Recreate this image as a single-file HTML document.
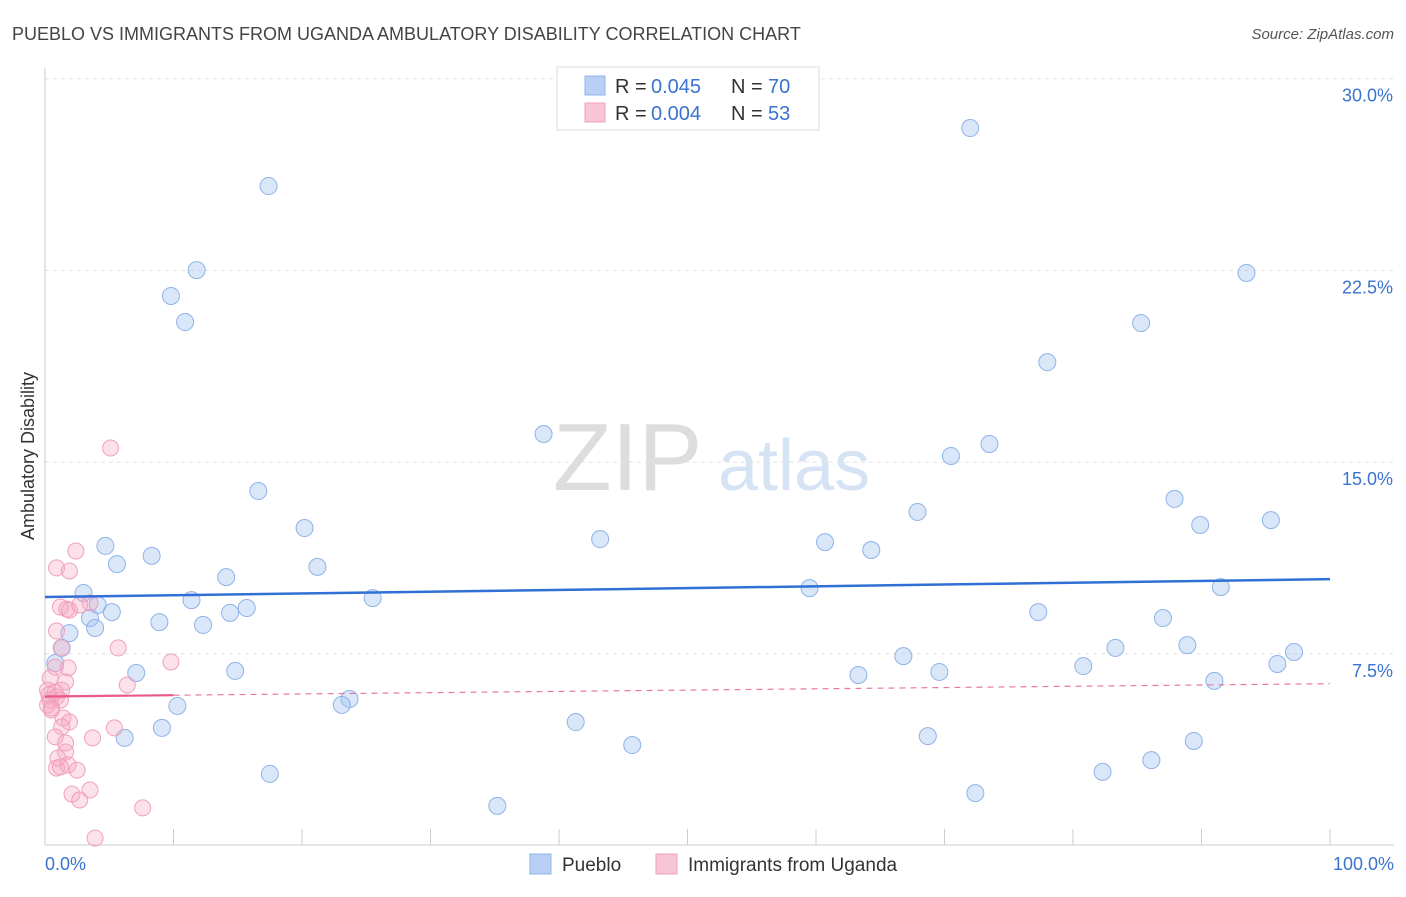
<!DOCTYPE html>
<html><head><meta charset="utf-8"><style>
body{margin:0;background:#fff;font-family:"Liberation Sans",sans-serif}
svg text{font-family:"Liberation Sans",sans-serif}
</style></head><body>
<svg id="chart" width="1406" height="892" xmlns="http://www.w3.org/2000/svg">
<text x="12" y="40" font-size="18" fill="#444">PUEBLO VS IMMIGRANTS FROM UGANDA AMBULATORY DISABILITY CORRELATION CHART</text>
<text x="1394" y="39" font-size="15" fill="#555" text-anchor="end" font-style="italic">Source: ZipAtlas.com</text>
<g>
<text x="553" y="490" font-size="96" fill="#ddd" font-family="Liberation Serif,serif">ZIP</text>
<text x="718" y="490" font-size="72" fill="#d5e3f5">atlas</text>
</g>
<text transform="translate(34,456) rotate(-90)" font-size="18" fill="#333" text-anchor="middle">Ambulatory Disability</text>
<g id="grid"></g><g id="axes"></g><g id="marks"></g>
<g>
<rect x="557" y="67" width="262" height="63" fill="#fff" stroke="#ddd"/>
<rect x="585" y="76" width="20" height="19" fill="#b7d0f3" stroke="#8fb3e8"/>
<text x="615" y="93" font-size="20" fill="#333">R =</text>
<text x="651" y="93" font-size="20" fill="#3a73d0">0.045</text>
<text x="731" y="93" font-size="20" fill="#333">N =</text>
<text x="768" y="93" font-size="20" fill="#3a73d0">70</text>
<rect x="585" y="103" width="20" height="19" fill="#f8c5d5" stroke="#f0a0bc"/>
<text x="615" y="120" font-size="20" fill="#333">R =</text>
<text x="651" y="120" font-size="20" fill="#3a73d0">0.004</text>
<text x="731" y="120" font-size="20" fill="#333">N =</text>
<text x="768" y="120" font-size="20" fill="#3a73d0">53</text>
</g>
<g>
<rect x="530" y="854" width="21" height="20" fill="#b7d0f3" stroke="#8fb3e8"/>
<text x="562" y="871" font-size="19" fill="#333">Pueblo</text>
<rect x="656" y="854" width="21" height="20" fill="#f8c5d5" stroke="#f0a0bc"/>
<text x="688" y="871" font-size="19" fill="#333">Immigrants from Uganda</text>
</g>
</svg>
<script>
const yTicks=[7.5,15,22.5,30];
const yTickLabels=["7.5%","15.0%","22.5%","30.0%"];
const xEndLabels=["0.0%","100.0%"];
const blueX=[72.0,17.4,11.8,9.8,10.9,93.5,85.3,78.0,38.8,70.5,73.5,16.6,87.9,67.9,95.4,89.9,20.2,43.2,60.7,64.3,4.7,8.3,5.6,21.2,14.1,59.5,91.5,3.0,25.5,11.4,4.1,5.2,15.7,14.4,3.5,8.9,12.3,77.3,87.0,1.9,3.9,1.3,83.3,88.9,66.8,97.2,80.8,95.9,0.8,7.1,14.8,63.3,69.6,91.0,23.7,23.1,10.3,41.3,9.1,6.2,68.7,45.7,89.4,86.1,82.3,17.5,72.4,35.2];
const blueY=[28.07,25.80,22.51,21.50,20.48,22.40,20.44,18.91,16.10,15.24,15.71,13.87,13.56,13.05,12.73,12.54,12.42,11.99,11.87,11.56,11.72,11.33,11.01,10.90,10.50,10.07,10.11,9.88,9.68,9.60,9.41,9.13,9.29,9.10,8.90,8.74,8.63,9.13,8.90,8.31,8.51,7.73,7.73,7.84,7.41,7.57,7.02,7.10,7.14,6.75,6.83,6.67,6.79,6.44,5.73,5.50,5.46,4.83,4.60,4.21,4.28,3.93,4.09,3.34,2.88,2.80,2.05,1.55];
const pinkX=[5.1,2.4,0.9,1.9,1.2,1.7,1.9,3.5,2.7,0.9,5.7,1.3,9.8,0.8,1.8,0.4,1.6,6.4,0.2,0.8,1.3,0.9,0.4,1.2,0.2,0.5,1.4,1.9,1.3,5.4,0.8,3.7,1.6,1.6,1.0,0.9,1.8,2.5,1.2,2.1,2.7,3.5,7.6,3.9,0.5,0.3];
const pinkY=[15.55,11.52,10.86,10.74,9.33,9.25,9.21,9.49,9.41,8.39,7.73,7.73,7.18,6.98,6.95,6.55,6.40,6.28,6.08,6.00,6.08,5.81,5.69,5.69,5.50,5.38,4.99,4.83,4.64,4.60,4.25,4.21,4.01,3.66,3.42,3.03,3.15,2.95,3.07,2.01,1.78,2.17,1.47,0.29,5.30,5.89];
const blueTrend=[9.72,10.42];
const pinkTrend=[5.83,6.33];
const pinkSolidEnd=10;
const NS="http://www.w3.org/2000/svg";
const X0=45,X1=1330,Y0=845.5,PXY=191.7/7.5;
const sx=v=>X0+(X1-X0)*v/100, sy=v=>Y0-v*PXY;
function mk(t,a,p){const e=document.createElementNS(NS,t);for(const k in a)e.setAttribute(k,a[k]);p.appendChild(e);return e;}
const grid=document.getElementById('grid'),axes=document.getElementById('axes'),marks=document.getElementById('marks');
yTicks.forEach((v,i)=>{
 const l=mk('line',{x1:X0,x2:1394,y1:sy(v),y2:sy(v),stroke:'#e2e2e2','stroke-dasharray':'4,4'},grid);
 
 
 const t=mk('text',{x:1393,y:sy(v)+23,'font-size':18,fill:'#3a73d0','text-anchor':'end'},axes);
 t.textContent=yTickLabels[i];
 
 
});
const ax=mk('line',{x1:X0,x2:1394,y1:845,y2:845,stroke:'#ccc'},axes);


const ay=mk('line',{x1:X0,x2:X0,y1:68,y2:845,stroke:'#ccc'},axes);


for(let i=0;i<=10;i++){
 const tk=mk('line',{x1:sx(i*10),x2:sx(i*10),y1:829,y2:845,stroke:'#ccc'},axes);
 
 
}
[[0,'start',45],[100,'end',1394]].forEach((d,i)=>{
 const t=mk('text',{x:d[2],y:870,'font-size':18,fill:'#3a73d0','text-anchor':d[1]},axes);
 t.textContent=xEndLabels[i];
 
 
});
blueX.forEach((v,i)=>{
 const c=mk('circle',{cx:sx(v),cy:sy(blueY[i]),r:8.5,fill:'rgba(160,196,240,0.4)',stroke:'#8fb3e8','stroke-width':1},marks);
 
 
});
pinkX.forEach((v,i)=>{
 const c=mk('circle',{cx:sx(v),cy:sy(pinkY[i]),r:8,fill:'rgba(245,170,195,0.35)',stroke:'#f0a0bc','stroke-width':1},marks);
 
 
});
const bt=mk('line',{x1:sx(0),x2:sx(100),y1:sy(blueTrend[0]),y2:sy(blueTrend[1]),stroke:'#2f6fd6','stroke-width':2.5},marks);


const pv=x=>pinkTrend[0]+(pinkTrend[1]-pinkTrend[0])*x/100;
const pd=mk('line',{x1:sx(pinkSolidEnd),x2:sx(100),y1:sy(pv(pinkSolidEnd)),y2:sy(pinkTrend[1]),stroke:'#e87aa0','stroke-width':1.2,'stroke-dasharray':'6,5'},marks);


const ps=mk('line',{x1:sx(0),x2:sx(pinkSolidEnd),y1:sy(pinkTrend[0]),y2:sy(pv(pinkSolidEnd)),stroke:'#e8588a','stroke-width':2.2},marks);


</script>
</body></html>
